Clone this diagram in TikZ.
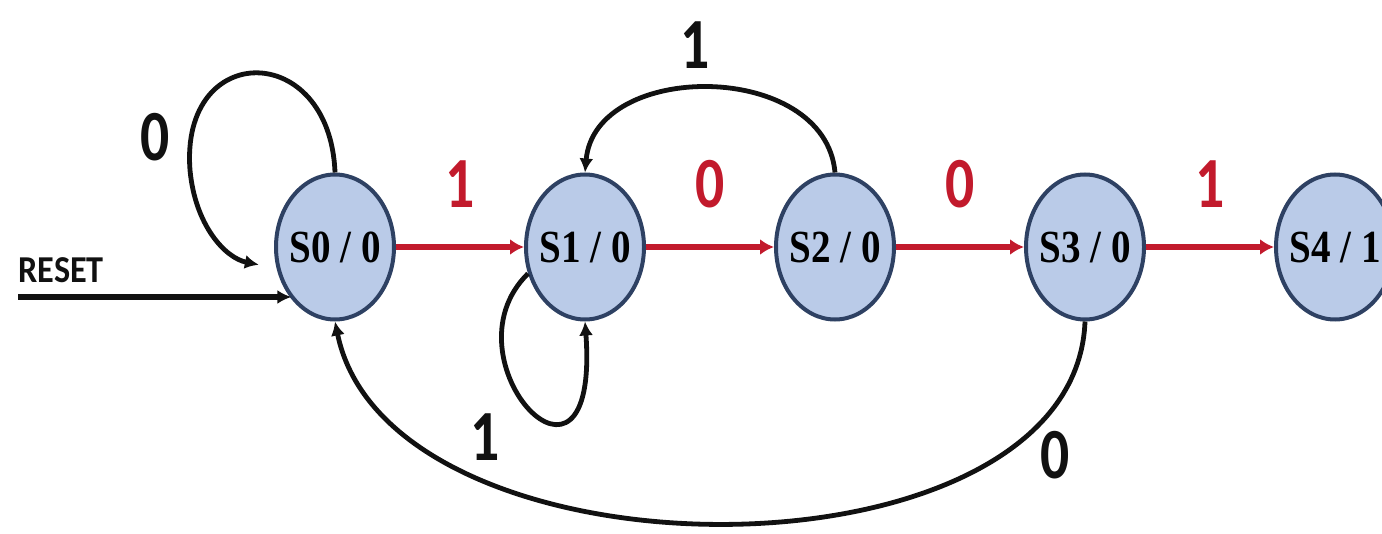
\documentclass[tikz,border=0pt]{standalone}
\usepackage{fontspec}
\setmainfont{Liberation Serif}
\newfontfamily\statefont{Liberation Serif}[FakeStretch=0.85]
\newfontfamily\inputfont{Carlito}[FakeStretch=0.8]
\newfontfamily\resetfont{Carlito}[FakeStretch=0.9]
\usetikzlibrary{arrows.meta,positioning,shapes.geometric}
\definecolor{FsmFill}{HTML}{BACBE8}
\definecolor{FsmEdge}{HTML}{2E4163}
\definecolor{FsmRed}{HTML}{C21A2C}
\definecolor{FsmInk}{HTML}{111111}
\tikzset{
  fsmstate/.style={ellipse, draw=FsmEdge, line width=2pt, fill=FsmFill,
    minimum width=59pt, minimum height=72.5pt, inner ysep=0pt, inner xsep=-5pt,
    font=\statefont\bfseries\fontsize{23}{23}\selectfont},
  wire/.style={-{Latex[length=7pt, width=7pt]}, line width=2.4pt, draw=FsmInk},
  hitwire/.style={-{Latex[length=7pt, width=8pt]}, line width=3pt, draw=FsmRed},
  resetwire/.style={wire, line width=3.4pt},
  inputlabel/.style={inner sep=0pt, text=FsmInk,
    font=\inputfont\bfseries\fontsize{36}{36}\selectfont},
  hitlabel/.style={inputlabel, text=FsmRed},
  resetlabel/.style={inner sep=0pt, text=FsmInk,
    font=\resetfont\bfseries\fontsize{19}{19}\selectfont}
}

\begin{document}
\begin{tikzpicture}[x=0.5pt, y=-0.5pt, node distance=64pt]
  \useasboundingbox (0,0) rectangle (1382,534);
  \node[fsmstate] (s0) at (335,247) {S0 / 0};
  \node[fsmstate, right=of s0] (s1) {S1 / 0};
  \node[fsmstate, right=of s1] (s2) {S2 / 0};
  \node[fsmstate, right=of s2] (s3) {S3 / 0};
  \node[fsmstate, right=of s3] (s4) {S4 / 1};
  % detecting path 1001
  \draw[hitwire] (s0) -- node[hitlabel, above=18pt]{1} (s1);
  \draw[hitwire] (s1) -- node[hitlabel, above=18pt]{0} (s2);
  \draw[hitwire] (s2) -- node[hitlabel, above=18pt]{0} (s3);
  \draw[hitwire] (s3) -- node[hitlabel, above=18pt]{1} (s4);
  % going back
  \draw[wire, shorten >=9pt] (s0.north) .. controls (330,40) and (180,40) .. (190,170)
    .. controls (195,225) and (225,258) .. (s0.200);
  \node[inputlabel] (zeroloop) at (155,137) {0};
  \draw[wire] (s2.north) .. controls (825,60) and (595,60) .. (s1.north);
  \node[inputlabel] (oneback) at (695,45) {1};
  \draw[wire] (s1.205) .. controls (440,360) and (600,530) .. (s1.south);
  \node[inputlabel] (oneloop) at (485,437) {1};
  \draw[wire] (s3.south) .. controls (1075,590) and (390,590) .. (s0.south);
  \node[inputlabel] (zeroback) at (1055,455) {0};
  % reset input
  \coordinate (reset) at (18,297);
  \node[resetlabel, anchor=base west] (resettext) at ([yshift=7pt]reset) {RESET};
  \draw[resetwire] (reset) -- (reset -| s0.230);
\end{tikzpicture}
\end{document}
